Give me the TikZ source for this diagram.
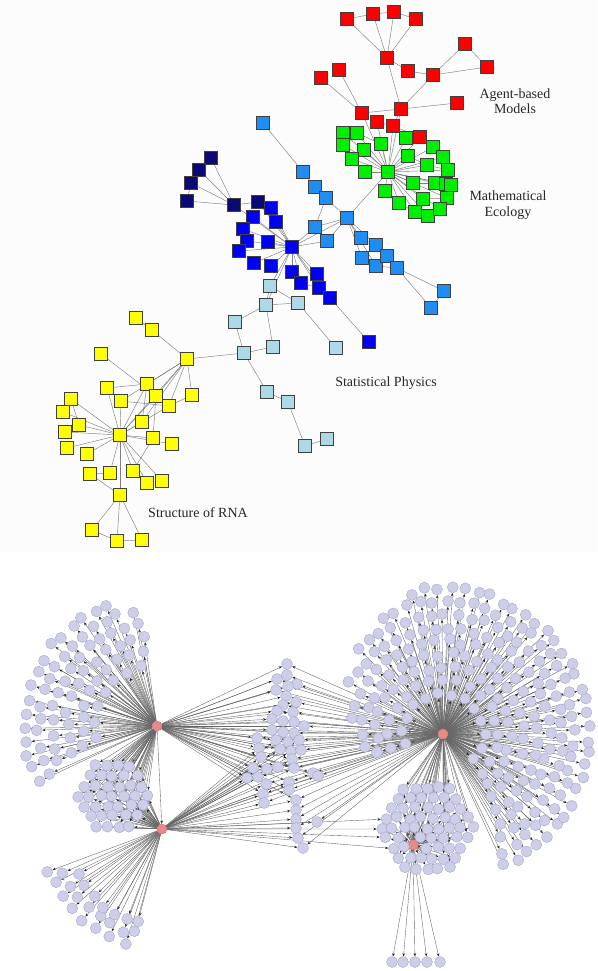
\documentclass[tikz,border=0pt]{standalone}
\usepackage{fontspec}
\setmainfont{Liberation Serif}
\usetikzlibrary{arrows.meta}
\pgfdeclarelayer{bg}
\pgfdeclarelayer{edges}
\pgfsetlayers{bg,edges,main}
\definecolor{leaffill}{HTML}{CDCEE8}
\definecolor{leafline}{HTML}{A6A7CA}
\definecolor{hubfill}{HTML}{E8898C}
\definecolor{hubline}{HTML}{C86A6E}
\definecolor{netred}{HTML}{FF0000}
\definecolor{netgreen}{HTML}{00EE00}
\definecolor{netnavy}{HTML}{0A0A72}
\definecolor{netblue}{HTML}{0000F2}
\definecolor{netdodger}{HTML}{1E8EF5}
\definecolor{netpowder}{HTML}{ADD8E6}
\definecolor{netyellow}{HTML}{FFFF00}
% ring lists: radius / first angle / last angle / steps
\def\ringsA{132/112/205/15,118/103/203/15,104/100/200/13,90/97/198/11,76/100/195/9,62/105/190/6}
\def\ringsB{120/200/252/7,108/204/256/7,96/208/256/6}
\def\ringsC{145/-65/102/32,132/-63/118/31,119/-60/135/30,106/-58/152/29,93/-55/170/27,80/-52/190/25,67/-48/195/21,54/-45/195/16,41/-40/195/12}
\def\midcol{287/664,287/675,277/679,297/684,288/686,276/690,286/696,296/702,283/705,277/711,293/712,272/719,283/721,294/722,304/726,272/730,283/732,294/733,257/738,276/740,288/742,299/740,259/748,280/749,291/751,301/750,261/757,292/759,253/768,267/769,278/767,294/768,313/773,247/778,258/777,289/782,318/776,266/784,289/790,263/794,296/800,264/803,296/810,296/819,317/822,296/828,298/838,303/848}
\begin{document}
\begin{tikzpicture}[x=1pt,y=-1pt,
  sq/.style={draw=black!75,line width=0.6pt,minimum size=13pt,inner sep=0pt},
  rsq/.style={sq,fill=netred},
  gsq/.style={sq,fill=netgreen},
  nsq/.style={sq,fill=netnavy},
  bsq/.style={sq,fill=netblue},
  dsq/.style={sq,fill=netdodger},
  psq/.style={sq,fill=netpowder},
  ysq/.style={sq,fill=netyellow},
  tl/.style={draw=black!50,line width=0.45pt},
  leaf/.style={circle,fill=leaffill,draw=leafline,line width=0.4pt,minimum size=11pt,inner sep=0pt},
  hub/.style={circle,fill=hubfill,draw=hubline,line width=0.4pt,minimum size=10pt,inner sep=0pt},
  lnk/.style={draw=black!60,line width=0.38pt,-{Stealth[length=3.2pt,width=2.6pt,color=black!85]}},
  lbl/.style={font=\fontsize{14}{15.5}\selectfont,text=black!85,align=center}
]
\useasboundingbox (0,0) rectangle (597,971);
\pgfmathsetseed{17}
\begin{pgfonlayer}{bg}
  \fill[black!1] (0,0) rectangle (597,552);
\end{pgfonlayer}

% ---------------- upper network: coloured communities ----------------
\foreach \n/\x/\y in {r1/347/19,r2/373/14,r3/394/12,r4/416/19,r5/387/58,r6/408/71,
  r7/433/75,r8/465/44,r9/487/67,r10/339/70,r11/321/78,r12/362/113,r13/401/109,
  r14/457/103,r15/377/122,r16/393/126,r17/420/137}
  \node[rsq] (\n) at (\x,\y) {};
\foreach \n/\x/\y in {g1/343/133,g2/357/133,g3/343/145,g4/364/150,g5/352/159,g6/381/144,
  g7/406/138,g8/433/147,g9/443/157,g10/408/156,g11/427/165,g12/448/170,g13/365/172,
  g14/413/183,g15/435/183,g24/446/184,g16/451/185,g17/385/191,g18/399/203,g19/423/199,
  g20/447/198,g21/415/212,g22/428/216,g23/440/209,g0/388/172}
  \node[gsq] (\n) at (\x,\y) {};
\foreach \n/\x/\y in {n1/211/158,n2/199/170,n3/191/183,n4/187/201,n5/234/205,n6/258/202}
  \node[nsq] (\n) at (\x,\y) {};
\foreach \n/\x/\y in {b1/271/208,b2/253/217,b3/276/222,b4/243/229,b5/247/241,b6/268/242,
  b7/239/251,b8/254/263,b9/271/266,b10/292/272,b11/301/283,b12/317/274,b13/319/288,
  b14/330/298,b15/369/342,b0/292/247}
  \node[bsq] (\n) at (\x,\y) {};
\foreach \n/\x/\y in {d1/263/123,d2/303/172,d3/315/187,d4/326/198,d5/347/218,d6/315/227,
  d7/327/241,d8/361/238,d9/362/258,d10/376/245,d11/376/266,d12/387/256,d13/397/268,
  d14/444/291,d15/431/308}
  \node[dsq] (\n) at (\x,\y) {};
\foreach \n/\x/\y in {p1/270/286,p2/266/305,p3/298/303,p4/235/322,p5/273/347,p6/244/353,
  p7/336/348,p8/267/392,p9/288/402,p10/305/446,p11/327/439}
  \node[psq] (\n) at (\x,\y) {};
\foreach \n/\x/\y in {y1/136/318,y2/152/330,y3/101/354,y4/187/359,y5/107/388,y6/147/384,
  y7/156/396,y8/121/401,y9/169/406,y10/192/395,y11/142/422,y12/71/399,y13/63/412,
  y14/79/425,y15/65/432,y16/67/448,y0/120/435,y17/153/438,y18/172/444,y19/87/454,
  y20/90/474,y21/110/473,y22/133/471,y23/147/483,y24/162/481,y25/120/495,y26/92/530,
  y27/117/541,y28/142/540}
  \node[ysq] (\n) at (\x,\y) {};

\begin{pgfonlayer}{edges}
\foreach \a/\b in {r1/r2,r2/r3,r3/r4,r1/r5,r2/r5,r3/r5,r4/r5,r5/r6,r6/r7,r7/r8,r8/r9,
  r9/r7,r5/r13,r7/r13,r13/r14,r10/r12,r11/r12,r12/r13,r13/r16,r15/r16,r16/r17,
  g0/r12,g0/r15,g0/r16,g0/r13,g0/r17,g0/g1,g0/g2,g0/g3,g0/g4,g0/g5,g0/g6,g0/g7,g0/g8,
  g0/g9,g0/g10,g0/g11,g0/g12,g0/g13,g0/g14,g0/g15,g0/g16,g0/g17,g0/g18,g0/g19,g0/g20,
  g0/g21,g0/g22,g0/g23,g0/g24,g8/g9,g11/g12,g14/g15,g19/g20,g21/g22,g10/g11,g18/g21,
  g2/g6,g15/g16,d5/g0,
  d1/d2,d2/d3,d3/d4,d4/d5,d4/d6,d5/d6,d5/d7,d5/d8,d5/d9,d5/d10,d5/d11,d8/d10,d10/d12,
  d12/d13,d9/d11,d11/d13,d13/d14,d13/d15,d14/d15,d8/d12,
  b0/d5,b0/d6,b0/d7,b0/b1,b0/b2,b0/b3,b0/b4,b0/b5,b0/b6,b0/b7,b0/b8,b0/b9,b0/b10,b0/b11,
  b0/b12,b0/b13,b0/b14,b0/n5,b0/n6,b12/b13,b13/b14,b14/b15,b11/b13,
  n1/n2,n2/n3,n3/n4,n1/n5,n2/n5,n3/n5,n4/n5,n5/n6,
  b0/p1,b0/p2,p1/p2,p1/p3,p2/p3,p2/p4,p2/p5,p4/p6,p6/p5,p6/y4,p6/p8,p3/p7,p8/p9,
  p9/p10,p10/p11,
  y1/y2,y2/y4,y4/y6,y4/y7,y4/y9,y4/y10,y4/y11,y4/y0,y4/y8,y3/y7,y6/y5,y6/y0,y6/y9,
  y8/y9,y5/y0,y8/y0,y0/y12,y0/y13,y0/y14,y0/y15,y0/y16,y0/y19,y0/y11,y0/y17,y0/y18,
  y0/y21,y0/y22,y0/y23,y0/y24,y0/y25,y0/y7,y0/y9,y12/y14,y20/y21,y20/y25,y25/y26,
  y25/y27,y25/y28,y26/y27,y27/y28,y17/y22,y11/y6,y7/y17,y10/y9,y7/y9}
  \draw[tl] (\a) -- (\b);
\end{pgfonlayer}

\node[lbl] (labAgent) at (515,101) {Agent-based\\Models};
\node[lbl] (labEco) at (508,205) {Mathematical\\Ecology};
\node[lbl] (labStat) at (386,383) {Statistical Physics};
\node[lbl] (labRNA) at (198,513) {Structure of RNA};

% ---------------- lower network: hubs and their leaves ----------------
\node[hub] (A) at (157,726) {};
\node[hub] (B) at (162,829) {};
\node[hub] (C) at (443,734) {};
\node[hub] (D) at (413,845) {};

% fan of hub A (upper left)
\foreach \r/\a/\b/\n [count=\q] in \ringsA {
  \foreach \k in {0,...,\n} {
    \pgfmathsetmacro\t{\a+(\b-\a)*\k/\n+1.2*rand}
    \pgfmathsetmacro\rr{\r+2.5*rand}
    \node[leaf] (fa\q_\k) at ({157+\rr*cos(\t)},{726-\rr*sin(\t)}) {};
  }
}
% fan of hub B (lower left)
\foreach \r/\a/\b/\n [count=\q] in \ringsB {
  \foreach \k in {0,...,\n} {
    \pgfmathsetmacro\t{\a+(\b-\a)*\k/\n+1.2*rand}
    \pgfmathsetmacro\rr{\r+2.5*rand}
    \node[leaf] (fb\q_\k) at ({162+\rr*cos(\t)},{829-\rr*sin(\t)}) {};
  }
}
% large fan of hub C (right)
\foreach \r/\a/\b/\n [count=\q] in \ringsC {
  \foreach \k in {0,...,\n} {
    \pgfmathsetmacro\t{\a+(\b-\a)*\k/\n+1.0*rand}
    \pgfmathsetmacro\rr{\r+2.5*rand}
    \node[leaf] (fc\q_\k) at ({443+\rr*cos(\t)},{734-\rr*sin(\t)}) {};
  }
}
% packed group shared by hubs A and B
\foreach \j in {-4,...,4} {
  \foreach \i in {-4,...,4} {
    \pgfmathsetmacro\px{\i*11.5+mod(abs(\j),2)*5.75}
    \pgfmathsetmacro\py{\j*10}
    \pgfmathsetmacro\inside{veclen(\px,\py)<36 ? 1 : 0}
    \ifdim\inside pt>0.5pt
      \pgfmathsetmacro\jx{113+\px+1.5*rand}
      \pgfmathsetmacro\jy{796+\py+1.5*rand}
      \node[leaf] (ab\i_\j) at (\jx,\jy) {};
    \fi
  }
}
% packed group around hub D
\foreach \j in {-5,...,5} {
  \foreach \i in {-5,...,5} {
    \pgfmathsetmacro\px{\i*11.5+mod(abs(\j),2)*5.75}
    \pgfmathsetmacro\py{\j*10}
    \pgfmathsetmacro\inside{and(veclen(\px,\py)<50,veclen(\px+14,\py-17)>9) ? 1 : 0}
    \ifdim\inside pt>0.5pt
      \pgfmathsetmacro\jx{427+\px+1.5*rand}
      \pgfmathsetmacro\jy{828+\py+1.5*rand}
      \node[leaf] (dd\i_\j) at (\jx,\jy) {};
    \fi
  }
}
% middle column
\foreach \x/\y [count=\m] in \midcol
  \node[leaf] (mid\m) at (\x,\y) {};
% short fan below hub D
\foreach \x [count=\m] in {392,403,415,427,440}
  \node[leaf] (low\m) at (\x,962) {};

% ---------------- links of the lower network ----------------
\begin{pgfonlayer}{edges}
\foreach \r/\a/\b/\n [count=\q] in \ringsA
  \foreach \k in {0,...,\n} \draw[lnk] (A) -- (fa\q_\k);
\foreach \r/\a/\b/\n [count=\q] in \ringsB
  \foreach \k in {0,...,\n} \draw[lnk] (B) -- (fb\q_\k);
\foreach \r/\a/\b/\n [count=\q] in \ringsC
  \foreach \k in {0,...,\n} \draw[lnk] (C) -- (fc\q_\k);
\foreach \j in {-4,...,4} {
  \foreach \i in {-4,...,4} {
    \pgfmathsetmacro\px{\i*11.5+mod(abs(\j),2)*5.75}
    \pgfmathsetmacro\py{\j*10}
    \pgfmathsetmacro\inside{veclen(\px,\py)<36 ? 1 : 0}
    \ifdim\inside pt>0.5pt
      \draw[lnk] (A) -- (ab\i_\j);
      \draw[lnk] (B) -- (ab\i_\j);
    \fi
  }
}
\foreach \j in {-5,...,5} {
  \foreach \i in {-5,...,5} {
    \pgfmathsetmacro\px{\i*11.5+mod(abs(\j),2)*5.75}
    \pgfmathsetmacro\py{\j*10}
    \pgfmathsetmacro\inside{and(veclen(\px,\py)<50,veclen(\px+14,\py-17)>9) ? 1 : 0}
    \ifdim\inside pt>0.5pt
      \draw[lnk] (D) -- (dd\i_\j);
      \pgfmathsetmacro\pty{mod(abs(\i+\j),2)}
      \ifdim\pty pt<0.5pt \draw[lnk] (C) -- (dd\i_\j); \fi
    \fi
  }
}
\foreach \x/\y [count=\m] in \midcol {
  \draw[lnk] (C) -- (mid\m);
  \ifnum\y<801 \draw[lnk] (A) -- (mid\m); \fi
  \ifnum\y>739 \draw[lnk] (B) -- (mid\m); \fi
}
\foreach \m in {1,...,5} \draw[lnk] (D) -- (low\m);
\draw[lnk] (A) -- (B);
\foreach \n in {dd-4_0,dd-4_1,dd-4_-1,dd-3_2}
  \draw[lnk] (B) -- (\n);
\end{pgfonlayer}
\end{tikzpicture}
\end{document}
